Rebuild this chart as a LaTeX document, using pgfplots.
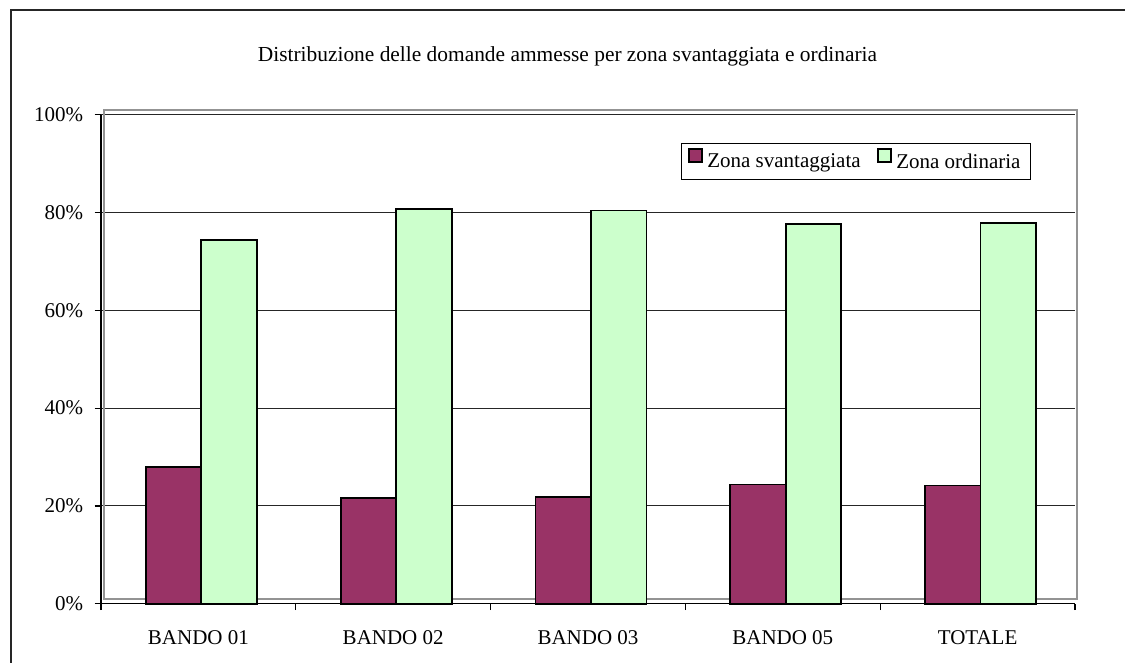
\documentclass[border=0pt]{standalone}
\usepackage{fontspec}
\setmainfont{Liberation Serif}
\usepackage{pgfplots}
\usepackage{pgfplotstable}
\pgfplotsset{compat=1.18}
\definecolor{maroon}{HTML}{993366}
\definecolor{lgreen}{HTML}{CCFFCC}
\definecolor{framegray}{HTML}{939393}

\pgfplotstableread{
x sv ord
0 27.9 74.4
1 21.6 80.7
2 21.9 80.4
3 24.4 77.7
4 24.2 77.9
}\data

\pgfplotsset{sq legend/.style={legend image code/.code={\draw[##1,draw=black,line width=1pt] (0pt,0.2pt) rectangle (6.8pt,6.8pt);}}}

\begin{document}
\fontsize{10.5pt}{12.6pt}\selectfont
\begin{tikzpicture}[x=1pt,y=1pt]
\useasboundingbox (0,0) rectangle (562.5,331.5);
\draw[line width=0.8pt, black!85] (5.5,0) -- (5.5,326.5) -- (562.5,326.5);
\node[anchor=base, inner sep=0pt, font=\fontsize{10.7pt}{12.8pt}\selectfont] at (283.75,300.5) {Distribuzione delle domande ammesse per zona svantaggiata e ordinaria};
\begin{axis}[
  at={(50.5pt,29.6pt)}, anchor=south west,
  scale only axis, width=487pt, height=244.55pt,
  clip=false,
  xmin=-0.5, xmax=4.5, ymin=0, ymax=100,
  ybar=0pt, bar width=27.75pt,
  axis x line*=bottom, axis y line*=left,
  axis line style={-, black, line width=0.6pt},
  xtick={-0.5,0.5,1.5,2.5,3.5,4.5},
  x tick label as interval,
  xticklabels={BANDO 01,BANDO 02,BANDO 03,BANDO 05,TOTALE},
  ytick={0,20,40,60,80,100},
  yticklabels={0\%,20\%,40\%,60\%,80\%,100\%},
  tick align=outside, major tick length=3.2pt,
  tick style={black, line width=0.6pt},
  ymajorgrids, grid style={black!85, line width=0.5pt},
  xticklabel style={anchor=base, yshift=-17.4pt},
  yticklabel style={xshift=-2pt},
  tick label style={font=\fontsize{10.5pt}{12.6pt}\selectfont},
  legend style={at={(0.9548,0.9417)}, anchor=north east, draw=black, line width=0.5pt,
    font=\fontsize{10.5pt}{12.6pt}\selectfont,
    /tikz/every odd column/.append style={column sep=0pt},
    /tikz/every even column/.append style={column sep=6pt},
    inner xsep=3pt, inner ysep=2pt},
  legend columns=2,
]
\draw[framegray, line width=1pt] ([xshift=1.5pt,yshift=2.4pt]rel axis cs:0,0) rectangle ([xshift=1pt,yshift=2.35pt]rel axis cs:1,1);
\addplot[fill=maroon, draw=black, line width=0.9pt, bar shift=-12.4pt, sq legend] table[x=x, y=sv] {\data};
\addplot[fill=lgreen, draw=black, line width=0.9pt, bar shift=15.35pt, sq legend] table[x=x, y=ord] {\data};
\legend{Zona svantaggiata, Zona ordinaria}
\end{axis}
\end{tikzpicture}
\end{document}
